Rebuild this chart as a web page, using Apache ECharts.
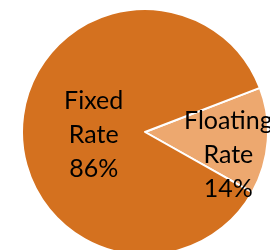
<!DOCTYPE html>
<html>
<head>
<meta charset="utf-8">
<script src="https://cdn.jsdelivr.net/npm/echarts@6/dist/echarts.min.js"></script>
<style>
  html, body { margin: 0; padding: 0; background: #fff; }
  #chart { width: 270px; height: 250px; }
</style>
</head>
<body>
<div id="chart"></div>
<script>
// data
var categories = ['Floating\nRate', 'Fixed\nRate']
var shares = [14, 86]
var sliceColors = ['#EDA86F', '#D4711F']
// nudges for the inside labels (per slice)
var labelShift = [[19, 18], [13, 8]]

var chart = echarts.init(document.getElementById('chart'))

chart.setOption({
  animation: false,
  series: [{
    type: 'pie',
    center: [145, 132],
    radius: [0, 123],
    startAngle: 21,
    clockwise: true,
    avoidLabelOverlap: false,
    itemStyle: {
      borderColor: '#ffffff',
      borderWidth: 2
    },
    label: {
      show: true,
      position: 'inside',
      color: '#000',
      fontFamily: 'Lato',
      fontSize: 25,
      lineHeight: 34,
      formatter: function (p) {
        return p.name + '\n' + p.value + '%'
      }
    },
    labelLine: { show: false },
    labelLayout: function (params) {
      var s = labelShift[params.dataIndex]
      return { dx: s[0], dy: s[1] }
    },
    data: categories.map(function (name, i) {
      return {
        name: name,
        value: shares[i],
        itemStyle: { color: sliceColors[i] }
      }
    })
  }]
})
</script>
</body>
</html>
